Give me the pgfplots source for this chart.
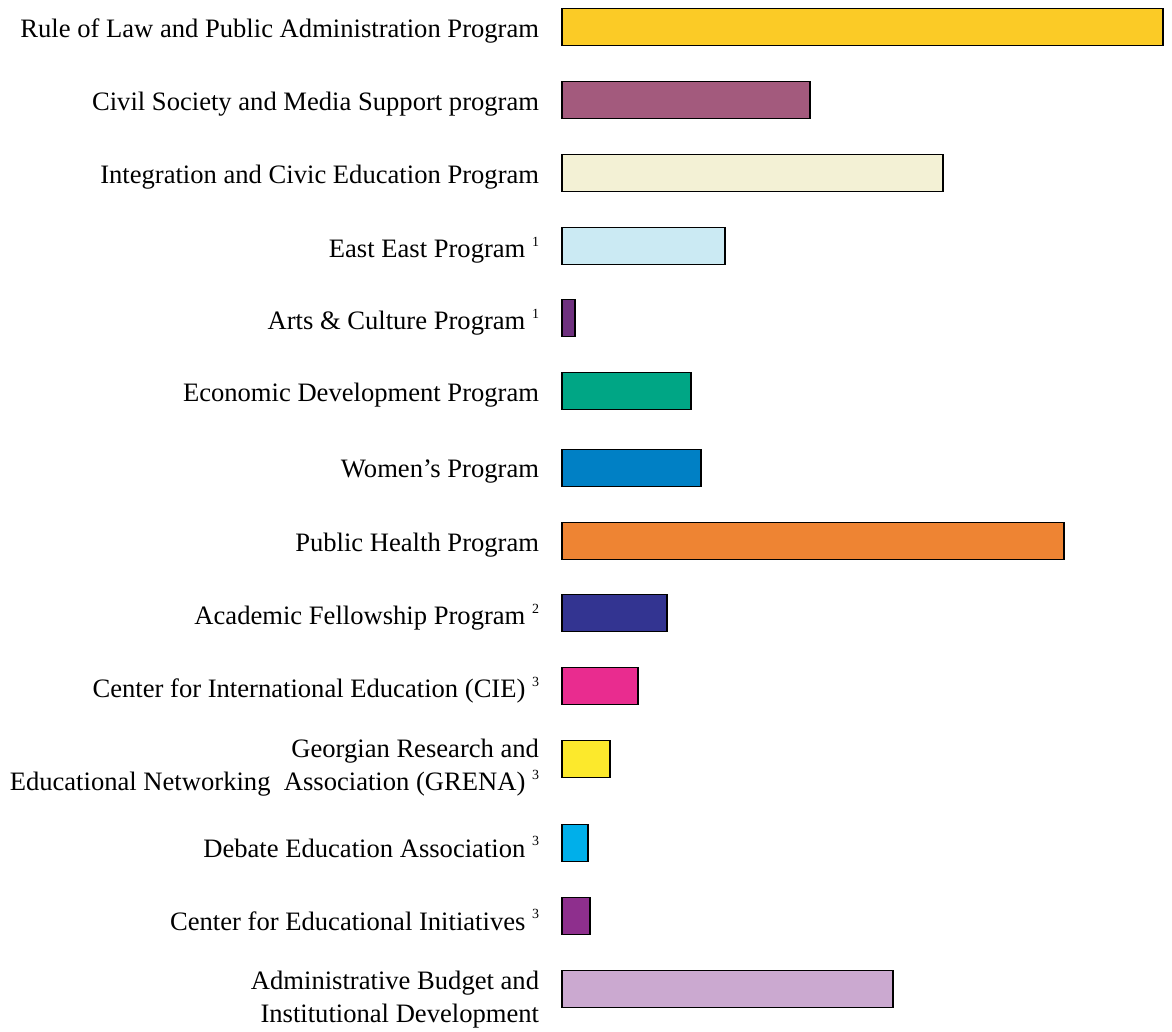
\documentclass[border=0pt]{standalone}
\usepackage{pgfplots}
\pgfplotsset{compat=1.18}
\usepackage{fontspec}
\setmainfont{Liberation Serif}
\definecolor{c1}{RGB}{251,203,38}
\definecolor{c2}{RGB}{163,90,125}
\definecolor{c3}{RGB}{243,241,213}
\definecolor{c4}{RGB}{203,234,243}
\definecolor{c5}{RGB}{110,48,126}
\definecolor{c6}{RGB}{0,166,133}
\definecolor{c7}{RGB}{0,128,197}
\definecolor{c8}{RGB}{238,132,51}
\definecolor{c9}{RGB}{51,52,145}
\definecolor{c10}{RGB}{233,44,143}
\definecolor{c11}{RGB}{252,233,44}
\definecolor{c12}{RGB}{0,175,234}
\definecolor{c13}{RGB}{142,47,141}
\definecolor{c14}{RGB}{203,169,208}
\newcommand{\fnsup}[1]{\ \raisebox{0.42em}{\fontsize{7}{8}\selectfont #1}}
\begin{document}
\begin{tikzpicture}
\begin{axis}[
  x=0.5pt, y=0.5pt, scale only axis,
  xmin=0, xmax=610, ymin=0, ymax=1032, y dir=reverse,
  clip=false,
  hide x axis,
  axis y line*=left,
  y axis line style={draw=none},
  ytick style={draw=none},
  xbar, bar shift=0pt, bar width=37,
  every axis plot/.append style={draw=black, line width=0.75pt},
  ytick={27,100,173,246,318,391,468,541,613,686,764,843,916,996},
  yticklabels={
    {Rule of Law and Public Administration Program},
    {Civil Society and Media Support program},
    {Integration and Civic Education Program},
    {East East Program\fnsup{1}},
    {Arts \& Culture Program\fnsup{1}},
    {Economic Development Program},
    {Women’s Program},
    {Public Health Program},
    {Academic Fellowship Program\fnsup{2}},
    {Center for International Education (CIE)\fnsup{3}},
    {Georgian Research and\\Educational Networking\ \ Association (GRENA)\fnsup{3}},
    {Debate Education Association\fnsup{3}},
    {Center for Educational Initiatives\fnsup{3}},
    {Administrative Budget and\\Institutional Development}
  },
  yticklabel style={inner sep=0pt, xshift=-7pt, yshift=-2pt, align=right, font=\fontsize{13.3}{16.5}\selectfont},
]
\addplot[fill=c1] coordinates {(601,27)};
\addplot[fill=c2] coordinates {(248,100)};
\addplot[fill=c3] coordinates {(381,173)};
\addplot[fill=c4] coordinates {(163,246)};
\addplot[fill=c5] coordinates {(13,318)};
\addplot[fill=c6] coordinates {(129,391)};
\addplot[fill=c7] coordinates {(139,468)};
\addplot[fill=c8] coordinates {(502,541)};
\addplot[fill=c9] coordinates {(105,613)};
\addplot[fill=c10] coordinates {(76,686)};
\addplot[fill=c11] coordinates {(48,759)};
\addplot[fill=c12] coordinates {(26,843)};
\addplot[fill=c13] coordinates {(28,916)};
\addplot[fill=c14] coordinates {(331,989)};
\path (axis cs:-562,0) rectangle (axis cs:610,1032);
\end{axis}
\end{tikzpicture}
\end{document}
